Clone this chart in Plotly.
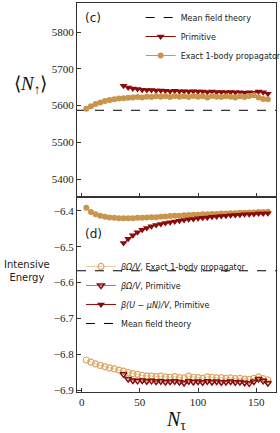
import plotly.graph_objects as go
from plotly.subplots import make_subplots

# ---------------- data ----------------
N_exact = list(range(4, 161, 4))
N_prim = list(range(36, 161, 4))
X_RANGE = [-4, 167]

# panel (c): <N_up>
mf_c = 5587
c_exact = [5591, 5598, 5604, 5608, 5612, 5615, 5617, 5619, 5620, 5621,
           5622, 5623, 5622, 5624, 5623, 5625, 5624, 5625, 5623, 5626,
           5624, 5625, 5623, 5626, 5624, 5625, 5622, 5626, 5624, 5623,
           5625, 5624, 5622, 5625, 5623, 5626, 5628, 5622, 5618, 5617]
c_prim = [5654, 5649, 5646, 5645, 5643, 5642, 5642, 5641, 5641, 5640,
          5639, 5640, 5639, 5639, 5638, 5639, 5638, 5638, 5637, 5638,
          5637, 5637, 5636, 5637, 5636, 5636, 5635, 5636, 5635, 5638,
          5636, 5632]

# panel (d): intensive energy
mf_d = -6.567
d_exact_upper = [-6.392, -6.404, -6.410, -6.414, -6.417, -6.419, -6.420, -6.421, -6.421, -6.421,
                 -6.421, -6.420, -6.420, -6.419, -6.418, -6.418, -6.417, -6.416, -6.415, -6.414,
                 -6.414, -6.413, -6.412, -6.411, -6.411, -6.410, -6.410, -6.409, -6.409, -6.408,
                 -6.408, -6.407, -6.407, -6.406, -6.406, -6.405, -6.405, -6.404, -6.404, -6.403]
d_prim_upper = [-6.490, -6.478, -6.468, -6.460, -6.453, -6.448, -6.443, -6.440, -6.437, -6.434,
                -6.432, -6.430, -6.428, -6.426, -6.424, -6.423, -6.421, -6.420, -6.419, -6.417,
                -6.416, -6.415, -6.414, -6.413, -6.412, -6.411, -6.410, -6.410, -6.409, -6.408,
                -6.408, -6.407]
d_exact_omega = [-6.815, -6.821, -6.826, -6.830, -6.834, -6.837, -6.840, -6.843, -6.846, -6.850,
                 -6.853, -6.855, -6.858, -6.859, -6.860, -6.861, -6.860, -6.862, -6.863, -6.861,
                 -6.864, -6.865, -6.860, -6.863, -6.864, -6.866, -6.862, -6.863, -6.865, -6.864,
                 -6.866, -6.865, -6.867, -6.866, -6.868, -6.869, -6.866, -6.862, -6.867, -6.870]
d_prim_omega = [-6.855, -6.868, -6.872, -6.873, -6.872, -6.874, -6.873, -6.875, -6.874, -6.876,
                -6.875, -6.874, -6.876, -6.879, -6.874, -6.876, -6.875, -6.877, -6.874, -6.876,
                -6.875, -6.877, -6.876, -6.875, -6.877, -6.876, -6.878, -6.880, -6.875, -6.868,
                -6.873, -6.879]

c_yticks = [5400, 5500, 5600, 5700, 5800]
d_yticks = [-6.9, -6.8, -6.7, -6.6, -6.5, -6.4]
x_ticks = [0, 50, 100, 150]

# ---------------- style ----------------
TAN = "#C9954C"
TAN_LIGHT = "#D9A762"
DRED = "#8B0A0A"
FRAME = "#333333"
SERIF = "Liberation Serif"
SANS = "DejaVu Sans"

fig = make_subplots(rows=2, cols=1, shared_xaxes=True, vertical_spacing=0)

# panel (c)
fig.add_trace(go.Scatter(x=X_RANGE, y=[mf_c, mf_c], mode="lines",
                         line=dict(color="black", dash="dash", width=1),
                         name="Mean field theory", legend="legend"), row=1, col=1)
fig.add_trace(go.Scatter(x=N_prim, y=c_prim, mode="lines+markers",
                         line=dict(color=DRED, width=1),
                         marker=dict(symbol="triangle-down", size=7, color=DRED),
                         name="Primitive", legend="legend"), row=1, col=1)
fig.add_trace(go.Scatter(x=N_exact, y=c_exact, mode="lines+markers",
                         line=dict(color=TAN, width=1),
                         marker=dict(symbol="circle", size=6, color=TAN),
                         name="Exact 1-body propagator", legend="legend"), row=1, col=1)

# panel (d)
fig.add_trace(go.Scatter(x=N_exact, y=d_exact_upper, mode="lines+markers",
                         line=dict(color=TAN, width=1),
                         marker=dict(symbol="circle", size=6, color=TAN),
                         showlegend=False), row=2, col=1)
fig.add_trace(go.Scatter(x=N_exact, y=d_exact_omega, mode="lines+markers",
                         line=dict(color=TAN_LIGHT, width=0.6),
                         marker=dict(symbol="circle-open", size=6, color=TAN_LIGHT,
                                     line=dict(width=1.2)),
                         name="<i>βΩ/V</i>, Exact 1-body propagator", legend="legend2"), row=2, col=1)
fig.add_trace(go.Scatter(x=N_prim, y=d_prim_omega, mode="lines+markers",
                         line=dict(color=DRED, width=0.6),
                         marker=dict(symbol="triangle-down-open", size=6, color=DRED,
                                     line=dict(width=1.5)),
                         name="<i>βΩ/V</i>, Primitive", legend="legend2"), row=2, col=1)
fig.add_trace(go.Scatter(x=N_prim, y=d_prim_upper, mode="lines+markers",
                         line=dict(color=DRED, width=1),
                         marker=dict(symbol="triangle-down", size=7, color=DRED),
                         name="<i>β(U − μN)/V</i>, Primitive", legend="legend2"), row=2, col=1)
fig.add_trace(go.Scatter(x=X_RANGE, y=[mf_d, mf_d], mode="lines",
                         line=dict(color="black", dash="dash", width=1),
                         name="Mean field theory", legend="legend2"), row=2, col=1)

W, H = 280, 433
ML, MR, MT, MB = 77, 4, 3, 41
split = 195 / 389

axis_common = dict(showline=True, mirror=True, linecolor=FRAME, linewidth=1.3,
                   ticks="inside", ticklen=4, tickcolor=FRAME, showgrid=False,
                   zeroline=False, automargin=False,
                   tickfont=dict(family=SERIF, size=11, color="#222"))

fig.update_layout(
    width=W, height=H,
    margin=dict(l=ML, r=MR, t=MT, b=MB, autoexpand=False),
    plot_bgcolor="white", paper_bgcolor="white",
    showlegend=True,
    legend=dict(x=0.32, y=1.0, xanchor="left", yanchor="top",
                bgcolor="rgba(0,0,0,0)", font=dict(family=SANS, size=8, color="#222"),
                tracegroupgap=0, itemwidth=30),
    legend2=dict(x=0.02, y=0.36, xanchor="left", yanchor="top",
                 bgcolor="rgba(0,0,0,0)", font=dict(family=SANS, size=8, color="#222"),
                 tracegroupgap=0, itemwidth=30),
)

fig.update_xaxes(range=X_RANGE, tickvals=x_ticks, **axis_common)
fig.update_xaxes(showticklabels=False, row=1, col=1)
fig.update_xaxes(title=dict(text="<i>N</i><sub>τ</sub>", font=dict(family=SERIF, size=20, color="#111"),
                            standoff=8), row=2, col=1)
fig.update_yaxes(**axis_common)
fig.update_yaxes(range=[5351, 5879], tickvals=c_yticks, domain=[split, 1], row=1, col=1)
fig.update_yaxes(range=[-6.904, -6.362], tickvals=d_yticks, domain=[0, split], row=2, col=1)

fig.add_annotation(text="⟨<i>N</i><sub>↑</sub>⟩", xref="paper", yref="paper",
                   x=-0.235, y=0.79, xanchor="center", yanchor="middle", showarrow=False,
                   font=dict(family=SERIF, size=19, color="#111"))
fig.add_annotation(text="Intensive<br>Energy", xref="paper", yref="paper",
                   x=-0.252, y=0.31, xanchor="center", yanchor="middle", showarrow=False,
                   font=dict(family=SANS, size=10, color="#222"))
fig.add_annotation(text="(c)", xref="paper", yref="paper", x=0.03, y=0.985,
                   xanchor="left", yanchor="top", showarrow=False,
                   font=dict(family=SANS, size=12, color="#222"))
fig.add_annotation(text="(d)", xref="paper", yref="paper", x=0.03, y=0.43,
                   xanchor="left", yanchor="top", showarrow=False,
                   font=dict(family=SANS, size=12, color="#222"))

fig.write_html("out.html", config={"displayModeBar": False},
               post_script="document.body.style.margin='0';")
